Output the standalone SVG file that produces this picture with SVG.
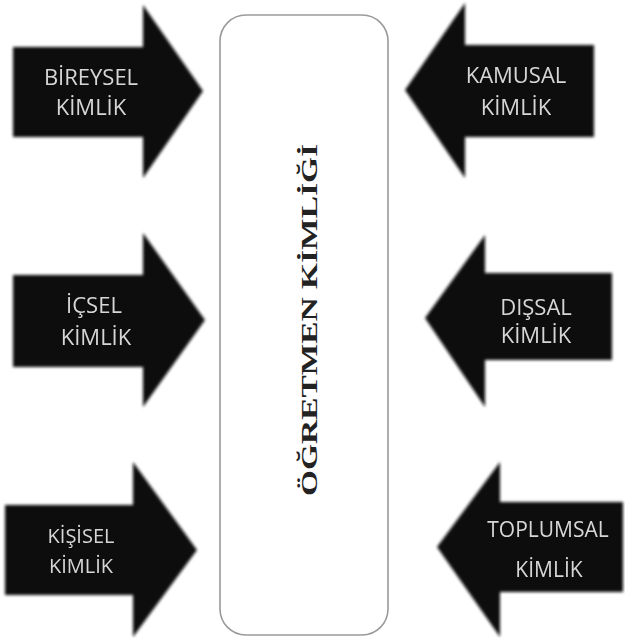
<svg xmlns="http://www.w3.org/2000/svg" width="625" height="638" viewBox="0 0 625 638">
  <defs>
    <filter id="soft" x="-10%" y="-10%" width="120%" height="120%">
      <feGaussianBlur stdDeviation="1.6"/>
    </filter>
    <filter id="glow" x="-10%" y="-20%" width="120%" height="140%">
      <feGaussianBlur stdDeviation="0.6"/>
    </filter>
  </defs>
  <style>
    .arrow { fill: #111111; filter: url(#soft); }
    .lbl { font-family: "Open Sans", "Noto Sans", "DejaVu Sans", sans-serif; font-size: 22px; fill: #d6d6d6; text-anchor: middle; filter: url(#glow); }
    .center { fill: #ffffff; stroke: #9a9a9a; stroke-width: 1.6; }
    .ctext { font-family: "Liberation Serif", "DejaVu Serif", serif; font-weight: bold; font-size: 24px; fill: #222222; text-anchor: middle; }
  </style>
  <rect width="625" height="638" fill="#ffffff"/>

  <g id="ogretmen-kimligi">
    <rect class="center" x="220" y="15" width="168" height="620" rx="26" ry="26"/>
    <text class="ctext" transform="translate(317,320) rotate(-90)" x="0" y="0" textLength="352" lengthAdjust="spacingAndGlyphs">ÖĞRETMEN KİMLİĞİ</text>
  </g>

  <g id="connectors">
    <g id="bireysel">
      <path class="arrow" d="M13,47 H143 V5 L203,91 L143,178 V137 H13 Z"/>
      <text class="lbl" x="91" y="85">BİREYSEL</text>
      <text class="lbl" x="91" y="115">KİMLİK</text>
    </g>
    <g id="kamusal">
      <path class="arrow" d="M594,45 H465 V3 L405,90 L465,178 V137 H594 Z"/>
      <text class="lbl" x="516" y="83">KAMUSAL</text>
      <text class="lbl" x="516" y="115">KİMLİK</text>
    </g>
    <g id="icsel">
      <path class="arrow" d="M13,275 H143 V233 L205,320 L143,407 V367 H13 Z"/>
      <text class="lbl" x="94" y="313">İÇSEL</text>
      <text class="lbl" x="96" y="345">KİMLİK</text>
    </g>
    <g id="dissal">
      <path class="arrow" d="M612,273 H485 V235 L425,318 L485,407 V360 H612 Z"/>
      <text class="lbl" x="536" y="315">DIŞSAL</text>
      <text class="lbl" x="536" y="343">KİMLİK</text>
    </g>
    <g id="kisisel">
      <path class="arrow" d="M5,505 H133 V462 L197,550 L133,637 V595 H5 Z"/>
      <text class="lbl" x="81" y="543" style="font-size:20px">KİŞİSEL</text>
      <text class="lbl" x="81" y="573" style="font-size:20px">KİMLİK</text>
    </g>
    <g id="toplumsal">
      <path class="arrow" d="M623,502 H500 V462 L437,547 L500,637 V592 H623 Z"/>
      <text class="lbl" x="548" y="537" style="font-size:21px">TOPLUMSAL</text>
      <text class="lbl" x="549" y="577" style="font-size:21px">KİMLİK</text>
    </g>
  </g>
</svg>
